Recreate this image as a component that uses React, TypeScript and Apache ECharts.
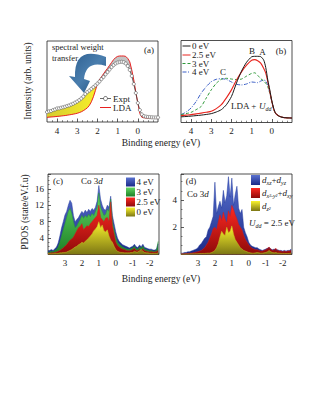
import React, { useEffect, useRef } from "react";
import * as echarts from "echarts";

const FONT = '"Liberation Serif", "Times New Roman", serif';

// ---------- Panel (a): photoemission vs LDA ----------
const energyA = [4.5,4.4,4.3,4.2,4.1,4.0,3.9,3.8,3.7,3.6,3.5,3.4,3.3,3.2,3.1,3.0,2.9,2.8,2.7,2.6,2.5,2.4,2.3,2.2,2.1,2.0,1.9,1.8,1.7,1.6,1.5,1.4,1.3,1.2,1.1,1.0,0.9,0.8,0.7,0.6,0.5,0.4,0.3,0.2,0.1,0.0,-0.1,-0.2,-0.3,-0.4,-0.5,-0.6,-0.7,-0.8,-0.9,-1.0];
const exptA = [12.3,13.2,13.6,14.8,15.5,16.7,16.9,17.6,18.2,18.9,19.8,20.5,21.6,22.6,24.0,25.3,27.0,29.0,31.4,34.5,37.0,38.8,41.0,43.0,45.2,47.5,50.0,53.0,55.6,58.8,61.7,64.8,67.8,70.2,72.3,73.5,74.1,74.3,73.8,72.2,69.1,64.2,56.8,46.9,35.8,23.5,14.8,9.3,7.3,6.6,6.2,6.0,5.8,5.6,5.6,5.6];
const ldaA = [5.8,6.0,6.2,6.4,6.6,6.9,7.1,7.4,7.7,8.0,8.4,8.8,9.2,9.7,10.2,10.8,11.6,12.6,14.0,15.6,17.5,20.5,25.0,31.2,39.0,47.5,52.0,55.8,59.5,63.0,66.3,70.0,73.5,77.0,79.5,81.0,81.5,81.5,81.5,81.0,78.5,74.4,64.2,51.9,37.0,23.5,10.5,5.8,5.2,5.0,4.9,4.9,4.9,4.9,4.9,4.9];

// ---------- Panel (b): LDA+U curves ----------
const energyB = [4.5,4.25,4.0,3.75,3.5,3.25,3.0,2.75,2.5,2.25,2.0,1.75,1.5,1.25,1.0,0.85,0.7,0.55,0.4,0.3,0.2,0.1,0.0,-0.1,-0.2,-0.4,-0.6,-1.0];
const u0B = [6.9,7.3,7.8,8.4,9.0,9.8,10.8,12.8,15.7,21.7,31.7,48.2,62.7,73.5,80.1,80.7,80.7,80.3,76.0,67.0,51.8,39.8,26.5,16.9,10.8,7.2,6.0,5.4];
const u25B = [8.4,9.0,9.6,10.5,11.4,12.4,13.6,16.9,21.7,30.1,39.8,51.8,61.8,69.9,75.9,76.7,75.3,72.3,65.9,60.2,49.8,37.7,25.7,15.7,10.8,7.2,6.0,5.4];
const u3B = [9.6,10.8,12.4,15.7,19.6,29.8,39.8,47.8,52.7,53.9,53.0,52.4,53.0,56.6,59.9,60.6,57.5,53.5,50.5,47.8,43.4,35.8,25.7,15.7,10.8,7.2,6.0,5.4];
const u4B = [9.6,12.7,17.7,25.7,35.8,43.7,49.8,52.7,53.4,52.5,49.4,46.6,45.8,47.0,49.4,49.0,48.6,50.5,51.8,50.5,45.8,35.8,25.7,15.7,10.8,7.2,6.0,5.4];
const legendB = ["0 eV", "2.5 eV", "3 eV", "4 eV"];

// ---------- Panels (c), (d): Co 3d PDOS ----------
const energyCD = [4.0,3.9,3.8,3.7,3.6,3.5,3.4,3.3,3.2,3.1,3.0,2.9,2.8,2.7,2.6,2.5,2.4,2.3,2.2,2.1,2.0,1.9,1.8,1.7,1.6,1.5,1.4,1.3,1.2,1.1,1.0,0.9,0.8,0.7,0.6,0.5,0.4,0.3,0.2,0.1,0.0,-0.1,-0.2,-0.3,-0.4,-0.5,-0.6,-0.7,-0.8,-0.9,-1.0,-1.1,-1.2,-1.3,-1.4,-1.5,-1.6,-1.7,-1.8,-1.9,-2.0,-2.1,-2.2,-2.3,-2.4,-2.5];
const pdosU4 = [0.8,1.0,1.2,1.0,1.4,1.8,2.8,4.5,6.5,8.0, 9.6,10.5,12.0,13.2,12.5,9.5,8.0,8.5,9.0,9.8, 10.5,10.0,10.8,10.2,11.0,10.5,11.2,10.8,11.5,13.0, 16.8,13.5,12.0,11.0,10.8,12.0,11.5,14.2,9.5,7.5, 5.5,4.0,3.2,2.8,2.4,2.2,2.0,1.8,1.6,1.8, 2.0,2.5,1.9,1.7,2.3,1.9,2.5,1.7,1.6,1.4, 1.3,1.3,1.1,1.1,1.3,2.6];
const pdosU3 = [0.5,0.6,0.8,0.7,1.0,1.2,1.8,3.0,4.5,6.0, 7.5,9.0,10.5,11.2,10.0,8.0,6.5,7.0,7.8,8.5, 9.5,8.8,9.5,9.0,9.8,9.2,10.0,9.5,10.5,11.5, 15.0,11.5,10.5,9.5,9.8,11.0,10.5,13.5,8.0,6.0, 4.2,3.0,2.5,2.2,1.8,1.6,1.4,1.3,1.2,1.4, 1.6,2.0,1.4,1.3,1.8,1.5,2.0,1.3,1.2,1.0, 0.9,1.0,0.8,0.8,1.0,3.2];
const pdosU25 = [0.3,0.3,0.4,0.4,0.5,0.6,0.8,1.0,1.3,1.6, 2.0,2.4,3.0,3.5,3.8,4.2,5.0,5.8,6.5,6.8, 7.5,6.0,6.5,7.0,6.8,7.5,8.0,8.5,9.0,9.5, 12.0,9.0,8.5,8.0,8.8,9.0,8.0,12.8,7.0,5.0, 3.0,2.2,1.8,1.5,1.3,1.2,1.0,0.9,0.9,1.0, 1.2,1.5,1.0,0.9,1.3,1.0,1.4,0.9,0.8,0.7, 0.6,0.7,0.6,0.6,0.7,1.0];
const pdosU0 = [0.2,0.2,0.2,0.2,0.3,0.3,0.3,0.4,0.4,0.5, 0.5,0.6,0.8,1.0,1.2,1.5,1.8,2.0,2.4,2.6, 3.0,2.8,3.2,3.6,4.0,4.5,5.0,5.8,6.2,6.8, 8.0,6.5,7.2,5.8,5.5,6.0,4.5,3.5,3.0,2.0, 1.2,0.8,0.6,0.5,0.5,0.4,0.4,0.4,0.4,0.5, 0.5,0.8,0.6,0.6,0.9,1.2,0.8,0.5,0.4,0.4, 0.3,0.3,0.3,0.3,0.3,0.4];
const pdosXzYz = [0.1,0.1,0.15,0.15,0.2,0.2,0.25,0.3,0.35,0.4, 0.5,0.7,0.8,1.0,1.2,1.3,1.8,2.0,2.4,2.8, 5.3,3.0,3.5,3.9,3.4,4.7,3.8,4.3,5.7,4.2, 5.6,3.6,4.4,5.0,3.4,3.0,3.3,2.0,1.6,1.3, 0.9,0.7,0.6,0.55,0.5,0.5,0.4,0.35,0.3,0.35, 0.4,0.45,0.5,0.4,0.35,0.4,0.3,0.35,0.3,0.3, 0.25,0.3,0.25,0.3,0.3,0.4];
const pdosX2y2Xy = [0.05,0.05,0.05,0.08,0.08,0.1,0.1,0.12,0.15,0.18, 0.2,0.25,0.3,0.4,0.5,0.7,0.9,1.2,1.5,1.9, 2.0,1.8,2.4,2.9,2.5,3.1,2.6,2.3,3.2,2.8, 3.6,3.3,2.9,2.6,2.2,2.0,1.8,1.4,1.1,0.9, 0.7,0.55,0.45,0.4,0.35,0.35,0.3,0.25,0.25,0.3, 0.35,0.45,0.55,0.4,0.3,0.35,0.45,0.3,0.25,0.25, 0.2,0.25,0.2,0.25,0.25,0.3];
const pdosZ2 = [0.03,0.03,0.03,0.03,0.04,0.04,0.05,0.05,0.05,0.06, 0.06,0.07,0.07,0.08,0.08,0.09,0.1,0.1,0.15,0.2, 0.3,0.5,0.8,1.3,1.7,1.5,1.4,2.0,1.6,1.7, 2.1,1.5,1.1,0.9,0.7,0.5,0.4,0.3,0.25,0.2, 0.15,0.12,0.1,0.1,0.12,0.15,0.12,0.1,0.1,0.12, 0.15,0.2,0.3,0.2,0.15,0.12,0.15,0.1,0.1,0.08, 0.08,0.08,0.07,0.07,0.08,0.1];
const legendC = ["4 eV", "3 eV", "2.5 eV", "0 eV"];

// tick values
const ticksAB = [4, 3, 2, 1, 0];
const minorAB = [4.25,3.75,3.5,3.25,2.75,2.5,2.25,1.75,1.5,1.25,0.75,0.5,0.25,-0.25,-0.5,-0.75];
const ticksCD = [3, 2, 1, 0, -1, -2];
const minorCD = [3.75,3.5,3.25,2.75,2.5,2.25,1.75,1.5,1.25,0.75,0.5,0.25,-0.25,-0.5,-0.75,-1.25,-1.5,-1.75,-2.25,-2.5];

echarts.graphic.registerShape(
  "swtArrow",
  echarts.graphic.extendPath("M106 57 Q74 45 75 77 L69 76 L84 93 L90 81 L84 79 Q86 60 106 66 Z", {})
);

const pairs = (xs: number[], ys: number[]) => xs.map((x, i) => [x, ys[i]]);
const vgrad = (top: string, bottom: string) =>
  new echarts.graphic.LinearGradient(0, 0, 0, 1, [
    { offset: 0, color: top },
    { offset: 1, color: bottom },
  ]);

const COLORS = {
  blue: ["#5a72d0", "#1a2a88", "#223a9e"],
  green: ["#62d862", "#1c7f26", "#2a9a32"],
  red: ["#ff2a22", "#8e0a0a", "#d81818"],
  yellow: ["#fbf42c", "#7c7614", "#c8c020"],
};

function xAxes(grid: number, min: number, max: number, ticks: number[], minors: number[]) {
  return [
    {
      gridIndex: grid, type: "value", position: "bottom", min, max, inverse: true,
      axisLine: { show: false, onZero: false }, splitLine: { show: false },
      axisTick: { show: true, inside: true, length: 3.5, customValues: ticks, lineStyle: { color: "#333", width: 0.8 } },
      axisLabel: { show: true, customValues: ticks, margin: 4, fontFamily: FONT, fontSize: 9, color: "#222", formatter: (v: number) => String(v) },
    },
    {
      gridIndex: grid, type: "value", position: "bottom", min, max, inverse: true,
      axisLine: { show: false, onZero: false }, splitLine: { show: false }, axisLabel: { show: false },
      axisTick: { show: true, inside: true, length: 1.8, customValues: minors, lineStyle: { color: "#333", width: 0.6 } },
    },
  ];
}

const txt = (x: number, y: number, text: string, extra: any = {}, rotation = 0) => ({
  type: "text", x, y, rotation, silent: true, z: 100,
  style: { text, fontFamily: FONT, fontSize: 9, fill: "#222", align: "left", verticalAlign: "middle", ...extra },
});

const richBase = {
  n: { fontFamily: FONT, fontSize: 9, fill: "#222" },
  i: { fontFamily: FONT, fontSize: 9, fontStyle: "italic", fill: "#222" },
  s: { fontFamily: FONT, fontSize: 6, fontStyle: "italic", fill: "#222", verticalAlign: "bottom", lineHeight: 12 },
};

function buildOption() {
  const yellowFill = new echarts.graphic.LinearGradient(0, 0, 1, 0, [
    { offset: 0, color: "#d6cc30" },
    { offset: 1, color: "#f7ef2a" },
  ]);

  const fillSeriesA = {
    type: "custom", xAxisIndex: 0, yAxisIndex: 0, silent: true, z: 1,
    data: pairs(energyA, exptA),
    encode: { x: 0, y: 1 },
    renderItem: (params: any, api: any) => {
      if (params.dataIndex !== 0) return null;
      const yPts: number[][] = [];
      const gPts: number[][] = [];
      energyA.forEach((e, i) => { if (e >= 2) yPts.push(api.coord([e, exptA[i]])); });
      for (let i = energyA.length - 1; i >= 0; i--) if (energyA[i] >= 2) yPts.push(api.coord([energyA[i], ldaA[i]]));
      energyA.forEach((e, i) => { if (e <= 2 && e >= 0) gPts.push(api.coord([e, ldaA[i]])); });
      for (let i = energyA.length - 1; i >= 0; i--) if (energyA[i] <= 2 && energyA[i] >= 0) gPts.push(api.coord([energyA[i], exptA[i]]));
      return {
        type: "group",
        children: [
          { type: "polygon", shape: { points: yPts }, style: { fill: yellowFill } },
          { type: "polygon", shape: { points: gPts }, style: { fill: "#c4c4c4" } },
        ],
      };
    },
  };

  const areaSeries = (xi: number, yi: number, data: number[], c: string[]) => ({
    type: "line", xAxisIndex: xi, yAxisIndex: yi, data: pairs(energyCD, data),
    symbol: "none", silent: true,
    lineStyle: { color: c[2], width: 0.5 },
    areaStyle: { color: vgrad(c[0], c[1]), opacity: 1 },
  });

  const lineB = (data: number[], color: string, type: any, width = 1) => ({
    type: "line", xAxisIndex: 2, yAxisIndex: 1, data: pairs(energyB, data),
    symbol: "none", smooth: 0.25, silent: true,
    lineStyle: { color, width, type },
  });

  const gridStyle = { show: true, borderColor: "#222", borderWidth: 0.8, backgroundColor: "transparent" };

  const graphics: any[] = [
    // panel (a)
    txt(52, 47, "spectral weight", { fontSize: 8.5 }),
    txt(52, 57.5, "transfer", { fontSize: 8.5 }),
    txt(149, 50, "(a)", { align: "center" }),
    {
      type: "swtArrow", x: 0, y: 0, z: 90, silent: true,
      style: { fill: new echarts.graphic.LinearGradient(0, 0, 1, 1, [{ offset: 0, color: "#2c5d8e" }, { offset: 0.5, color: "#4a7eae" }, { offset: 1, color: "#1e4a78" }]) },
    },
    { type: "line", z: 100, silent: true, shape: { x1: 100, y1: 98.5, x2: 111, y2: 98.5 }, style: { stroke: "#444", lineWidth: 0.8 } },
    { type: "circle", z: 101, silent: true, shape: { cx: 105.5, cy: 98.5, r: 2 }, style: { stroke: "#444", fill: "#fff", lineWidth: 0.8 } },
    txt(113, 98.5, "Expt"),
    { type: "line", z: 100, silent: true, shape: { x1: 100, y1: 107.5, x2: 111, y2: 107.5 }, style: { stroke: "#e82020", lineWidth: 1 } },
    txt(113, 107.5, "LDA"),
    txt(28, 81, "Intensity (arb. units)", { align: "center", fontSize: 9.5 }, Math.PI / 2),
    txt(161, 143, "Binding energy (eV)", { align: "center", fontSize: 9.5 }),
    // panel (b)
    txt(281, 51, "(b)", { align: "center" }),
    txt(252, 51, "B", { align: "center" }),
    txt(262.5, 51.5, "A", { align: "center" }),
    txt(223, 71.5, "C", { align: "center" }),
    { type: "text", x: 231, y: 106, z: 100, silent: true, style: { text: "{n|LDA + }{i|U}{s|dd}", rich: richBase, align: "left", verticalAlign: "middle" } },
    // panel (c)
    txt(58, 181, "(c)", { align: "center" }),
    { type: "text", x: 81, y: 181, z: 100, silent: true, style: { text: "{n|Co 3}{i|d}", rich: richBase, align: "left", verticalAlign: "middle" } },
    txt(25, 212, "PDOS (state/eV.f.u)", { align: "center", fontSize: 9.5 }, Math.PI / 2),
    txt(161, 279, "Binding energy (eV)", { align: "center", fontSize: 9.5 }),
    // panel (d)
    txt(191, 181, "(d)", { align: "center" }),
    { type: "text", x: 187, y: 194, z: 100, silent: true, style: { text: "{n|Co 3}{i|d}", rich: richBase, align: "left", verticalAlign: "middle" } },
    { type: "text", x: 249, y: 223, z: 100, silent: true, style: { text: "{i|U}{s|dd}{n| = 2.5 eV}", rich: richBase, align: "left", verticalAlign: "middle" } },
  ];

  // legend (b)
  const bStyles: any[] = [
    { stroke: "#1a1a1a", lineDash: null },
    { stroke: "#e8241e", lineDash: null },
    { stroke: "#2f9a3a", lineDash: [3, 2] },
    { stroke: "#3b5fc7", lineDash: [4, 1.5, 1, 1.5] },
  ];
  const bRows = [46, 55, 63.5, 72];
  legendB.forEach((label, k) => {
    graphics.push({ type: "line", z: 100, silent: true, shape: { x1: 182.5, y1: bRows[k], x2: 190.5, y2: bRows[k] }, style: { stroke: bStyles[k].stroke, lineDash: bStyles[k].lineDash, lineWidth: 1 } });
    graphics.push(txt(192, bRows[k], label));
  });

  // legend (c)
  const cCols = [COLORS.blue, COLORS.green, COLORS.red, COLORS.yellow];
  const cRows = [182, 192, 202, 212];
  legendC.forEach((label, k) => {
    graphics.push({ type: "rect", z: 100, silent: true, shape: { x: 126, y: cRows[k] - 4.5, width: 9, height: 9 }, style: { fill: vgrad(cCols[k][0], cCols[k][1]) } });
    graphics.push(txt(136.5, cRows[k], label));
  });

  // legend (d)
  const dCols = [COLORS.blue, COLORS.red, COLORS.yellow];
  const dRows = [180, 193, 206];
  const dLabels = ["{i|d}{s|xz}{n|+}{i|d}{s|yz}", "{i|d}{s|x²-y²}{n|+}{i|d}{s|xy}", "{i|d}{s|z²}"];
  dLabels.forEach((label, k) => {
    graphics.push({ type: "rect", z: 100, silent: true, shape: { x: 251, y: dRows[k] - 5, width: 9, height: 10 }, style: { fill: vgrad(dCols[k][0], dCols[k][1]) } });
    graphics.push({ type: "text", x: 262, y: dRows[k], z: 100, silent: true, style: { text: label, rich: richBase, align: "left", verticalAlign: "middle" } });
  });

  const plainY = (gridIndex: number) => ({
    gridIndex, type: "value", position: "left", min: 0, max: 100,
    axisLine: { show: false, onZero: false }, axisTick: { show: false }, axisLabel: { show: false }, splitLine: { show: false },
  });

  return {
    animation: false,
    backgroundColor: "#fff",
    grid: [
      { left: 47, top: 41, width: 111, height: 81, ...gridStyle },
      { left: 181, top: 40.5, width: 111, height: 82, ...gridStyle },
      { left: 48, top: 174, width: 111, height: 80.5, ...gridStyle },
      { left: 181, top: 174, width: 111, height: 80.5, ...gridStyle },
    ],
    xAxis: [
      ...xAxes(0, -1, 4.5, ticksAB, minorAB),
      ...xAxes(1, -1, 4.5, ticksAB, minorAB),
      ...xAxes(2, -2.55, 4, ticksCD, minorCD),
      ...xAxes(3, -2.55, 4, ticksCD, minorCD),
    ],
    yAxis: [
      plainY(0),
      plainY(1),
      {
        gridIndex: 2, type: "value", position: "left", min: 0, max: 19.6, interval: 4,
        axisLine: { show: false, onZero: false }, splitLine: { show: false },
        axisTick: { show: true, inside: true, length: 3, lineStyle: { color: "#333", width: 0.8 } },
        minorTick: { show: true, splitNumber: 4, length: 1.5, lineStyle: { color: "#333", width: 0.6 } },
        axisLabel: { margin: 4, fontFamily: FONT, fontSize: 9, color: "#222", formatter: (v: number) => (v > 0 && v % 4 === 0 ? String(v) : "") },
      },
      {
        gridIndex: 3, type: "value", position: "left", min: 0, max: 5.9, interval: 2,
        axisLine: { show: false, onZero: false }, splitLine: { show: false },
        axisTick: { show: true, inside: true, length: 3, lineStyle: { color: "#333", width: 0.8 } },
        minorTick: { show: true, splitNumber: 3, length: 1.5, lineStyle: { color: "#333", width: 0.6 } },
        axisLabel: { margin: 4, fontFamily: FONT, fontSize: 9, color: "#222", formatter: (v: number) => (v > 0 && v % 2 === 0 ? String(v) : "") },
      },
    ],
    series: [
      // (a)
      fillSeriesA,
      { type: "line", xAxisIndex: 0, yAxisIndex: 0, data: pairs(energyA, ldaA), symbol: "none", silent: true, z: 3, lineStyle: { color: "#e82020", width: 1 } },
      {
        type: "line", xAxisIndex: 0, yAxisIndex: 0, data: pairs(energyA, exptA), symbol: "circle", symbolSize: 3.2, showSymbol: true, silent: true, z: 4,
        lineStyle: { color: "#444", width: 0.8 }, itemStyle: { color: "#fff", borderColor: "#555", borderWidth: 0.6 },
      },
      // (b)
      lineB(u4B, "#3b5fc7", [4, 1.5, 1, 1.5]),
      lineB(u3B, "#2f9a3a", [3, 2]),
      lineB(u25B, "#e8241e", "solid", 1.1),
      lineB(u0B, "#1a1a1a", "solid"),
      // (c)
      areaSeries(4, 2, pdosU4, COLORS.blue),
      areaSeries(4, 2, pdosU3, COLORS.green),
      areaSeries(4, 2, pdosU25, COLORS.red),
      areaSeries(4, 2, pdosU0, COLORS.yellow),
      // (d)
      areaSeries(6, 3, pdosXzYz, COLORS.blue),
      areaSeries(6, 3, pdosX2y2Xy, COLORS.red),
      areaSeries(6, 3, pdosZ2, COLORS.yellow),
    ],
    graphic: { elements: graphics },
  };
}

export default function App() {
  const ref = useRef<HTMLDivElement>(null);
  useEffect(() => {
    if (!ref.current) return;
    const chart = echarts.init(ref.current, undefined, { renderer: "svg" });
    chart.setOption(buildOption() as any);
    return () => chart.dispose();
  }, []);
  return (
    <div
      ref={ref}
      style={{ position: "absolute", left: 0, top: 0, width: 317, height: 411, background: "#fff" }}
    />
  );
}
